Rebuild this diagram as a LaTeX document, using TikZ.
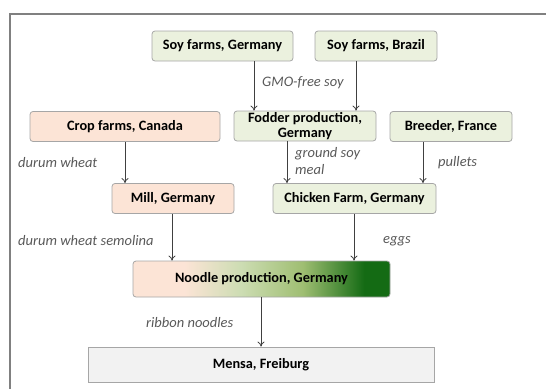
\documentclass[tikz,border=0pt]{standalone}
\usepackage{fontspec}
\setmainfont{Carlito}
\usetikzlibrary{arrows.meta}
\definecolor{peach}{HTML}{FCE4D6}
\definecolor{leaf}{HTML}{EBF1DE}
\definecolor{midleaf}{HTML}{9FBE72}
\definecolor{darkleaf}{HTML}{146B14}
\definecolor{mensagray}{HTML}{F2F2F2}
\definecolor{rim}{HTML}{A6A6A6}
\definecolor{flowgray}{HTML}{404040}
\definecolor{labelgray}{HTML}{595959}
\pgfdeclarehorizontalshading{noodleshade}{100bp}{color(0bp)=(peach); color(35bp)=(peach); color(46bp)=(leaf!60!midleaf); color(58bp)=(midleaf); color(70bp)=(darkleaf); color(100bp)=(darkleaf)}
\tikzset{
  box/.style={draw=rim, line width=0.8pt, rounded corners=3pt, minimum height=30pt,
    inner sep=0pt, align=center, font=\fontsize{14.3}{14.5}\selectfont\bfseries},
  greenbox/.style={box, fill=leaf},
  peachbox/.style={box, fill=peach},
  flow/.style={draw=flowgray, line width=0.8pt, -{To[length=5pt,width=7pt]}},
  lbl/.style={anchor=west, inner sep=0pt, align=left, text=labelgray,
    font=\fontsize{14.5}{17.5}\selectfont\itshape}
}
\begin{document}
\begin{tikzpicture}[x=1pt,y=-1pt]
\useasboundingbox (0,0) rectangle (546,389);
\draw[gray, line width=1.5pt] (546,14) -- (10,14) -- (10,389);
\node[greenbox, minimum width=141pt] (soyde) at (222.5,46) {Soy farms, Germany};
\node[greenbox, minimum width=122pt] (soybr) at (376,46) {Soy farms, Brazil};
\node[greenbox, minimum width=142pt] (fodder) at (305,126) {Fodder production,\\Germany};
\node[peachbox, minimum width=190pt] (crop) at (125,126.5) {Crop farms, Canada};
\node[greenbox, minimum width=122pt] (breeder) at (451,126.5) {Breeder, France};
\node[peachbox, minimum width=122pt] (mill) at (173,198.5) {Mill, Germany};
\node[greenbox, minimum width=163pt] (chicken) at (354.5,198.5) {Chicken Farm, Germany};
\node[box, shading=noodleshade, minimum width=257pt, minimum height=36pt] (noodle) at (261.5,279) {Noodle production, Germany};
\node[box, fill=mensagray, rounded corners=0pt, minimum width=346pt, minimum height=35pt] (mensa) at (261,364.5) {Mensa, Freiburg};
\draw[flow] (soyde.south -| 254,0) -- (fodder.north -| 254,0);
\draw[flow] (soybr.south -| 356,0) -- (fodder.north -| 356,0);
\draw[flow] (crop.south -| 125,0) -- (mill.north -| 125,0);
\draw[flow] (fodder.south -| 287,0) -- (chicken.north -| 287,0);
\draw[flow] (breeder.south -| 423,0) -- (chicken.north -| 423,0);
\draw[flow] (mill.south -| 172,0) -- (noodle.north -| 172,0);
\draw[flow] (chicken.south -| 354,0) -- (noodle.north -| 354,0);
\draw[flow] (noodle.south -| 261,0) -- (mensa.north -| 261,0);
\node[lbl] (gmo) at (262,83) {GMO-free soy};
\node[lbl] (wheat) at (18,163) {durum wheat};
\node[lbl] (meal) at (295,161) {ground soy\\meal};
\node[lbl] (pullets) at (438,163) {pullets};
\node[lbl] (semolina) at (18,241) {durum wheat semolina};
\node[lbl] (eggs) at (383,241) {eggs};
\node[lbl] (ribbon) at (146,323) {ribbon noodles};
\end{tikzpicture}
\end{document}
